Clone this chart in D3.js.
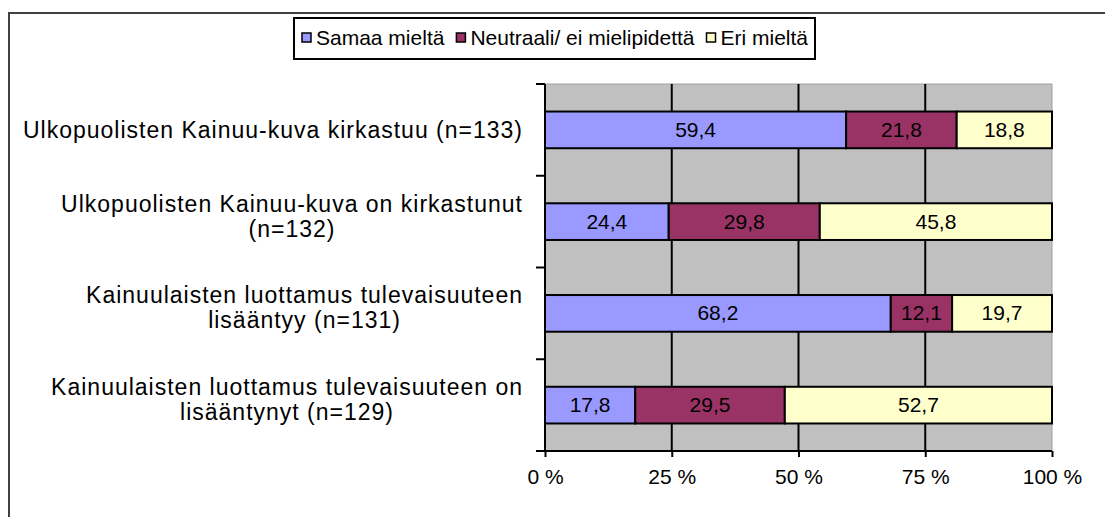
<!DOCTYPE html>
<html>
<head>
<meta charset="utf-8">
<script src="https://cdn.jsdelivr.net/npm/d3@7"></script>
<style>
  body { margin: 0; background: #fff; }
  svg { display: block; font-family: "Liberation Sans", Arial, sans-serif; }
</style>
</head>
<body>
<div id="chart"></div>
<script>
// data
const categories = [
  ["Ulkopuolisten Kainuu-kuva kirkastuu (n=133)"],
  ["Ulkopuolisten Kainuu-kuva on kirkastunut", "(n=132)"],
  ["Kainuulaisten luottamus tulevaisuuteen", "lisääntyy (n=131)"],
  ["Kainuulaisten luottamus tulevaisuuteen on", "lisääntynyt (n=129)"]
];
const seriesNames = ["Samaa mieltä", "Neutraali/ ei mielipidettä", "Eri mieltä"];
const samaa = [59.4, 24.4, 68.2, 17.8];
const neutraali = [21.8, 29.8, 12.1, 29.5];
const eri = [18.8, 45.8, 19.7, 52.7];
const xTicks = [0, 25, 50, 75, 100];
const colors = ["#9999FF", "#993366", "#FFFFCC"];

const W = 1105, H = 517;
const plot = {left: 545, right: 1052, top: 84, bottom: 451};

const svg = d3.select("#chart").append("svg")
  .attr("width", W).attr("height", H);

// outer chart frame (runs off the right and bottom edge)
svg.append("rect")
  .attr("x", 9).attr("y", 13)
  .attr("width", W + 20).attr("height", H + 20)
  .attr("fill", "none").attr("stroke", "#404040").attr("stroke-width", 2);

// table for stacking
const rows = categories.map((c, i) => ({i: i, s0: samaa[i], s1: neutraali[i], s2: eri[i]}));
const stack = d3.stack().keys(["s0", "s1", "s2"])(rows);

const x = d3.scaleLinear().domain([0, 100]).range([plot.left, plot.right]);
const y = d3.scaleBand().domain(d3.range(categories.length))
  .range([plot.top, plot.bottom]).paddingInner(0.6).paddingOuter(0.3);
const yEdge = d3.scaleLinear().domain([0, categories.length]).range([plot.top, plot.bottom]);

// plot area
svg.append("rect")
  .attr("x", plot.left).attr("y", plot.top)
  .attr("width", plot.right - plot.left).attr("height", plot.bottom - plot.top)
  .attr("fill", "#C0C0C0").attr("stroke", "#A0A0A0").attr("stroke-width", 1);

// vertical gridlines
svg.append("g").selectAll("line")
  .data(xTicks.slice(1, -1))
  .join("line")
  .attr("x1", d => x(d)).attr("x2", d => x(d))
  .attr("y1", plot.top).attr("y2", plot.bottom)
  .attr("stroke", "#000").attr("stroke-width", 2);

// bars
const fmt = d3.formatLocale({decimal: ",", thousands: " ", grouping: [3], currency: ["", ""]}).format(".1f");

const layers = svg.append("g").selectAll("g")
  .data(stack)
  .join("g")
  .attr("fill", (d, k) => colors[k]);

layers.selectAll("rect")
  .data(d => d)
  .join("rect")
  .attr("x", d => x(d[0]))
  .attr("y", d => y(d.data.i))
  .attr("width", d => x(d[1]) - x(d[0]))
  .attr("height", y.bandwidth())
  .attr("stroke", "#000").attr("stroke-width", 2);

layers.selectAll("text")
  .data(d => d)
  .join("text")
  .attr("x", d => (x(d[0]) + x(d[1])) / 2)
  .attr("y", d => y(d.data.i) + y.bandwidth() / 2 + 7)
  .attr("text-anchor", "middle")
  .attr("fill", "#000")
  .attr("font-size", 21)
  .text(d => fmt(d[1] - d[0]));

// x axis
const xAxis = svg.append("g")
  .attr("transform", "translate(0," + plot.bottom + ")")
  .call(d3.axisBottom(x).tickValues(xTicks).tickSize(6).tickFormat(d => d + " %"));
xAxis.select(".domain").attr("stroke", "#000").attr("stroke-width", 2)
  .attr("d", "M" + (plot.left - 9) + ",0H" + plot.right);
xAxis.selectAll(".tick line").attr("stroke", "#000").attr("stroke-width", 2);
xAxis.selectAll(".tick text")
  .attr("y", 33).attr("dy", 0)
  .attr("font-size", 21).attr("font-family", "Liberation Sans, Arial, sans-serif")
  .attr("fill", "#000");

// y axis line and ticks at category edges
svg.append("line")
  .attr("x1", plot.left).attr("x2", plot.left)
  .attr("y1", plot.top).attr("y2", plot.bottom)
  .attr("stroke", "#000").attr("stroke-width", 2);
svg.append("g").selectAll("line")
  .data(d3.range(categories.length + 1))
  .join("line")
  .attr("x1", plot.left - 9).attr("x2", plot.left)
  .attr("y1", d => yEdge(d)).attr("y2", d => yEdge(d))
  .attr("stroke", "#000").attr("stroke-width", 2);

// category labels: block right aligned, lines centred in block
const labelRight = 523;
const catG = svg.append("g");
categories.forEach((lines, i) => {
  const cy = y(i) + y.bandwidth() / 2;
  const g = catG.append("g");
  const texts = lines.map((l, j) => g.append("text")
    .attr("font-size", 23).attr("letter-spacing", 1)
    .attr("fill", "#000")
    .attr("text-anchor", "middle")
    .attr("y", lines.length === 1 ? cy + 8 : cy - 10 + j * 25)
    .text(l));
  const maxW = d3.max(texts, t => t.node().getComputedTextLength());
  texts.forEach(t => t.attr("x", labelRight - maxW / 2));
});

// legend
svg.append("rect")
  .attr("x", 294).attr("y", 18).attr("width", 521).attr("height", 41)
  .attr("fill", "#fff").attr("stroke", "#000").attr("stroke-width", 2);
let lx = 302;
seriesNames.forEach((name, k) => {
  svg.append("rect")
    .attr("x", lx).attr("y", 33).attr("width", 9).attr("height", 9)
    .attr("fill", colors[k]).attr("stroke", "#000").attr("stroke-width", 1.5);
  const t = svg.append("text")
    .attr("x", lx + 14).attr("y", 45)
    .attr("font-size", 21).attr("fill", "#000")
    .text(name);
  lx += 14 + t.node().getComputedTextLength() + 12;
});
</script>
</body>
</html>
